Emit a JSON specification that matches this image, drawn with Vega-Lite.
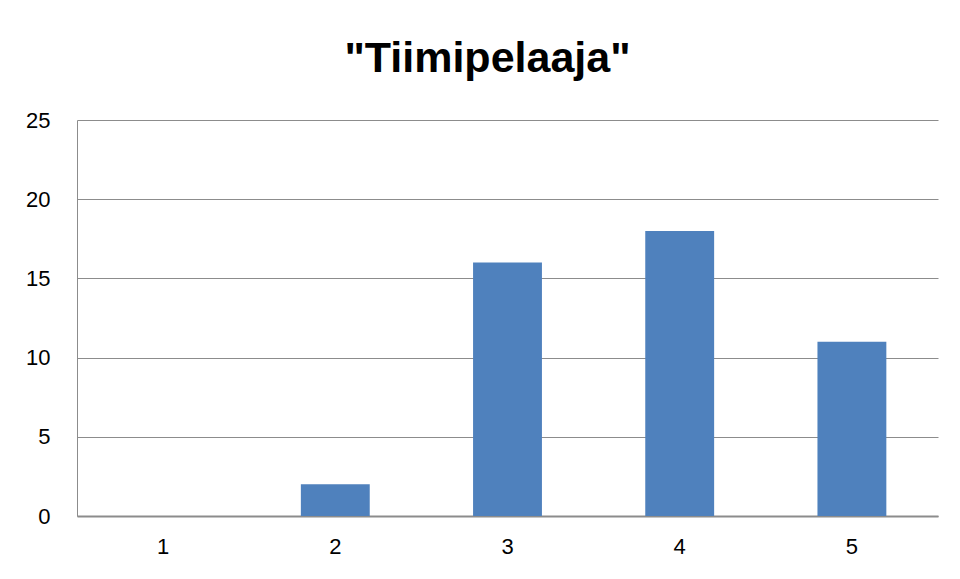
{
  "$schema": "https://vega.github.io/schema/vega-lite/v6.json",
  "autosize": "none",
  "width": 861,
  "height": 396,
  "padding": {"left": 77, "top": 120, "right": 22, "bottom": 63},
  "background": "white",
  "title": {
    "text": "\"Tiimipelaaja\"",
    "font": "Liberation Sans",
    "fontSize": 43,
    "fontWeight": "bold",
    "color": "black",
    "anchor": "middle",
    "dx": -20,
    "offset": 28
  },
  "data": {
    "values": [
      {"arvo": "1", "maara": 0},
      {"arvo": "2", "maara": 2},
      {"arvo": "3", "maara": 16},
      {"arvo": "4", "maara": 18},
      {"arvo": "5", "maara": 11}
    ]
  },
  "mark": {"type": "bar", "color": "#4F81BD"},
  "encoding": {
    "x": {
      "field": "arvo",
      "type": "ordinal",
      "scale": {"paddingInner": 0.6, "paddingOuter": 0.3},
      "axis": {
        "title": null,
        "labelAngle": 0,
        "labelFont": "Liberation Sans",
        "labelFontSize": 22,
        "labelColor": "black",
        "labelPadding": 20,
        "ticks": false,
        "domainColor": "#8c8c8c",
        "domainWidth": 2
      }
    },
    "y": {
      "field": "maara",
      "type": "quantitative",
      "scale": {"domain": [0, 25]},
      "axis": {
        "title": null,
        "values": [0, 5, 10, 15, 20, 25],
        "labelFont": "Liberation Sans",
        "labelFontSize": 22,
        "labelColor": "black",
        "labelPadding": 27,
        "ticks": false,
        "domainColor": "#8c8c8c",
        "gridColor": "#8c8c8c",
        "gridWidth": 1
      }
    }
  },
  "config": {"view": {"stroke": null}}
}
